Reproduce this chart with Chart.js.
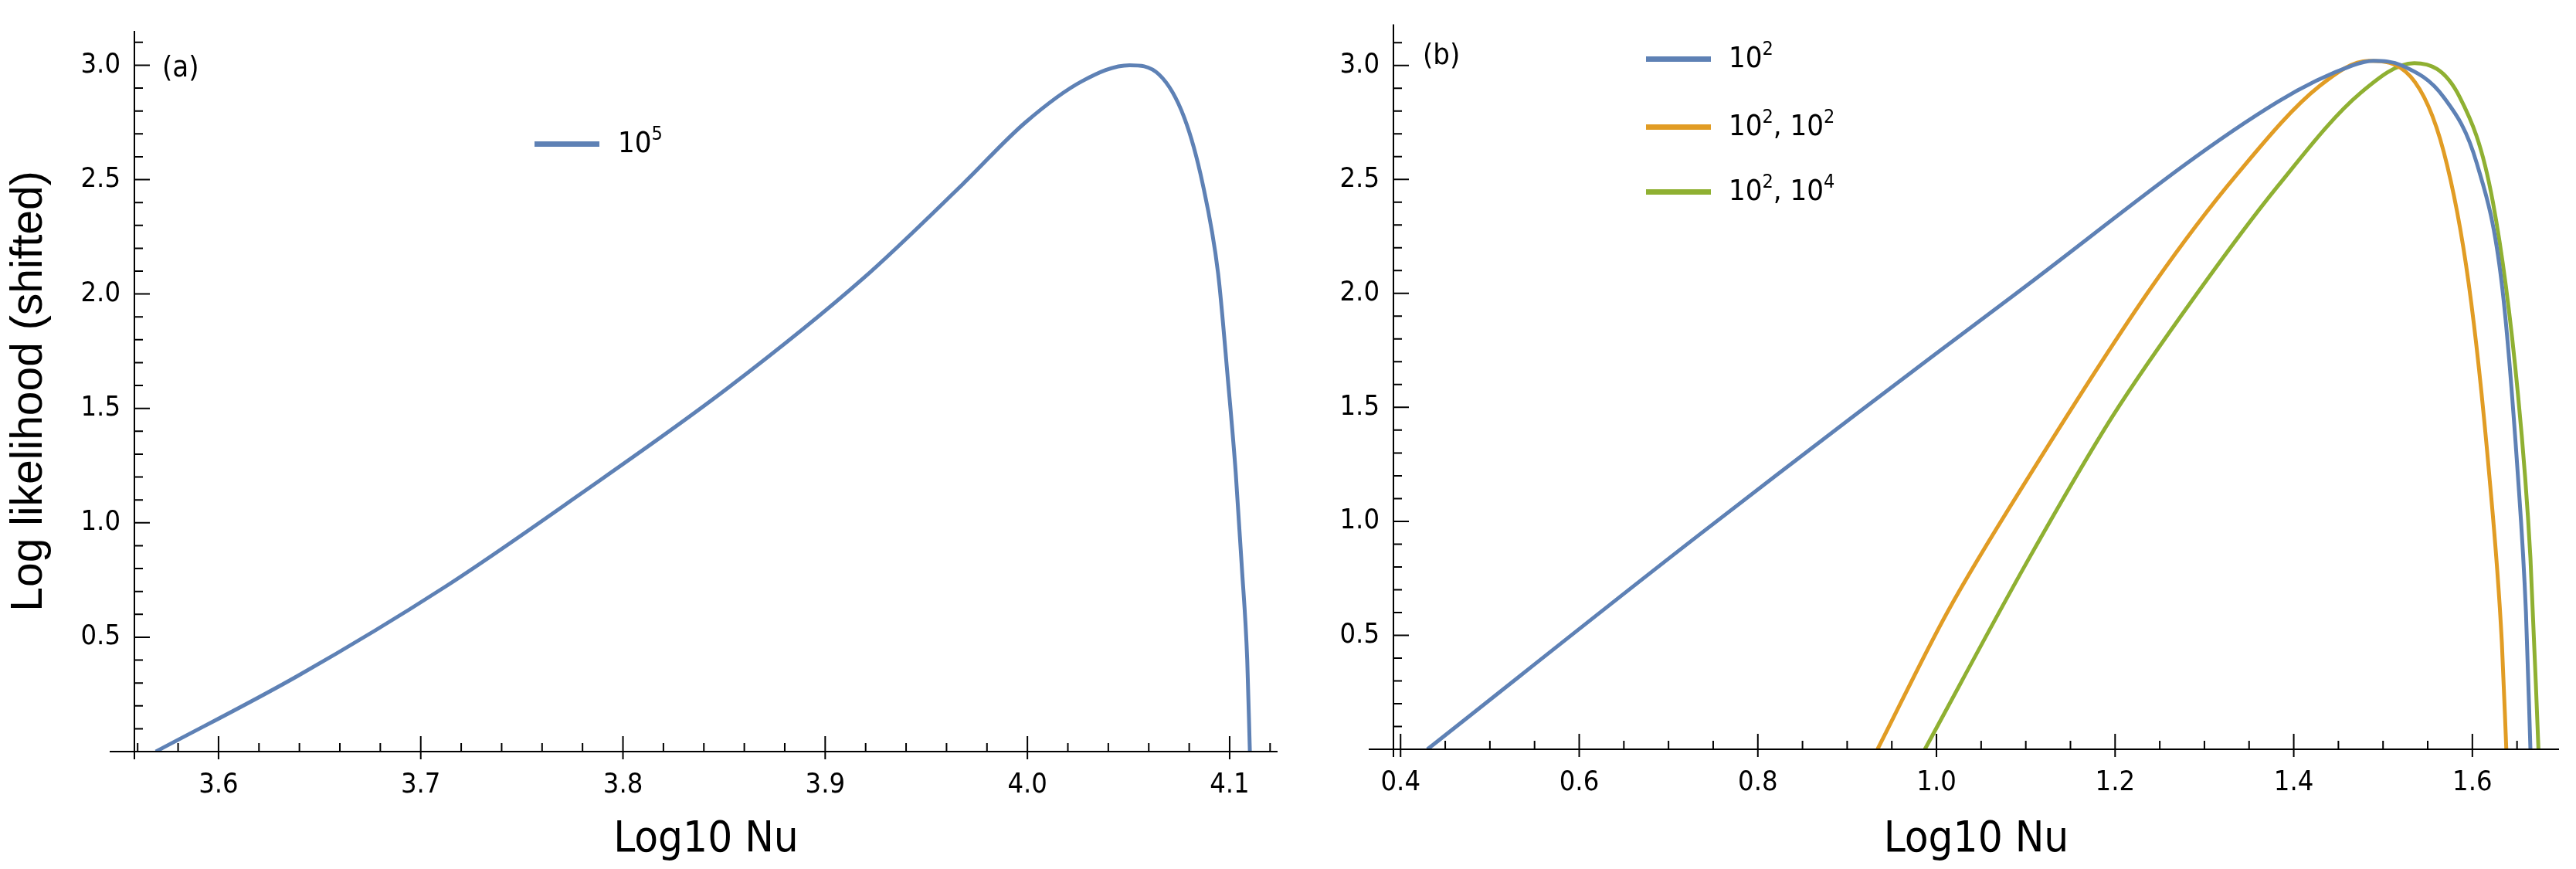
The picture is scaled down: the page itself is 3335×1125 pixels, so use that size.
<!DOCTYPE html>
<html>
<head>
<meta charset="utf-8">
<script src="https://cdn.jsdelivr.net/npm/chart.js@4"></script>
<style>
  body { margin: 0; background: #fff; width: 3335px; height: 1125px; position: relative; overflow: hidden; }
  .box { position: absolute; top: 0; height: 1125px; }
  .lbl { position: absolute; font-family: 'DejaVu Sans Condensed', 'Liberation Sans Narrow', sans-serif; font-size: 38px; color: #000; }
  .key { position: absolute; height: 7px; width: 84px; }
  sup { font-size: 25px; vertical-align: 16px; line-height: 0; }
</style>
</head>
<body>
<div class="box" style="left:0;width:1665px"><canvas id="chartA"></canvas></div>
<div class="box" style="left:1665px;width:1670px"><canvas id="chartB"></canvas></div>

<div class="lbl" style="left:210px;top:64px">(a)</div>
<div class="key" style="left:692px;top:183px;background:#5e81b5"></div>
<div class="lbl" style="left:800px;top:162px">10<sup>5</sup></div>

<div class="lbl" style="left:1842px;top:48px">(b)</div>
<div class="key" style="left:2131px;top:73px;background:#5e81b5"></div>
<div class="lbl" style="left:2238px;top:52px">10<sup>2</sup></div>
<div class="key" style="left:2131px;top:161px;background:#e19c24"></div>
<div class="lbl" style="left:2238px;top:140px">10<sup>2</sup>, 10<sup>2</sup></div>
<div class="key" style="left:2131px;top:245px;background:#8fb032"></div>
<div class="lbl" style="left:2238px;top:224px">10<sup>2</sup>, 10<sup>4</sup></div>

<script>
// panel (a)
var xA = [3.569, 3.639, 3.712, 3.778, 3.852, 3.919, 3.968, 3.999, 4.027, 4.0505, 4.065, 4.0776, 4.0867, 4.0943, 4.0992, 4.103, 4.106, 4.1087, 4.110];
var yA = [0, 0.33, 0.72, 1.12, 1.59, 2.07, 2.48, 2.75, 2.93, 3.0, 2.96, 2.77, 2.48, 2.09, 1.62, 1.22, 0.81, 0.40, 0];

// panel (b)
var xBlue = [0.43, 0.734, 1.086, 1.382, 1.466, 1.489, 1.521, 1.568, 1.605, 1.633, 1.651, 1.66, 1.665];
var yBlue = [0, 0.94, 1.99, 2.84, 3.0, 3.02, 3.0, 2.86, 2.57, 2.04, 1.2, 0.6, 0];
var xOrange = [0.934, 1.012, 1.104, 1.243, 1.336, 1.429, 1.484, 1.531, 1.568, 1.596, 1.619, 1.633, 1.638];
var yOrange = [0, 0.6, 1.2, 2.04, 2.52, 2.91, 3.02, 2.95, 2.62, 2.04, 1.2, 0.47, 0];
var xGreen = [0.987, 1.104, 1.197, 1.29, 1.382, 1.475, 1.535, 1.586, 1.623, 1.651, 1.665, 1.674];
var yGreen = [0, 0.84, 1.46, 1.99, 2.47, 2.88, 3.01, 2.86, 2.4, 1.56, 0.84, 0];

var yTicks = [0.5, 1.0, 1.5, 2.0, 2.5, 3.0];
var xTicksA = [3.6, 3.7, 3.8, 3.9, 4.0, 4.1];
var xTicksB = [0.4, 0.6, 0.8, 1.0, 1.2, 1.4, 1.6];

function pts(xs, ys) {
    return xs.map(function (x, i) { return { x: x, y: ys[i] }; });
}

function line(xs, ys, color) {
    return {
        data: pts(xs, ys),
        showLine: true,
        borderColor: color,
        borderWidth: 5,
        pointRadius: 0,
        cubicInterpolationMode: 'monotone',
        fill: false
    };
}

// ticks drawn inward like the original
var tickPlugin = {
    id: 'ticks',
    afterDraw: function (chart) {
        var c = chart.ctx, a = chart.chartArea, o = chart.options.plugins.ticks;
        var xs = chart.scales.x, ys = chart.scales.y;
        c.save();
        c.strokeStyle = '#000';
        c.lineWidth = 2;
        c.beginPath();
        c.moveTo(a.left - 32, a.bottom); c.lineTo(a.right, a.bottom);
        c.moveTo(a.left, a.top); c.lineTo(a.left, a.bottom + 10);
        c.stroke();
        var i, v, p;
        c.beginPath();
        for (i = 0; ; i++) {
            v = o.xStart + i * o.xMinor;
            if (v > xs.max + 1e-9) break;
            if (v < xs.min - 1e-9) continue;
            p = xs.getPixelForValue(v);
            var major = Math.abs(v / o.xMajor - Math.round(v / o.xMajor)) < 1e-6;
            c.moveTo(p, a.bottom); c.lineTo(p, a.bottom - (major ? 20 : 11));
            if (major) { c.moveTo(p, a.bottom); c.lineTo(p, a.bottom + 10); }
        }
        for (i = 1; ; i++) {
            v = i * 0.1;
            if (v > ys.max) break;
            p = ys.getPixelForValue(v);
            var majorY = i % 5 === 0;
            c.moveTo(a.left, p); c.lineTo(a.left + (majorY ? 20 : 11), p);
        }
        c.stroke();
        c.restore();
    }
};

var tickFont = { family: "'DejaVu Sans Condensed', 'Liberation Sans Narrow', sans-serif", size: 36 };
var titleFont = { family: "'DejaVu Sans Condensed', 'Liberation Sans Narrow', sans-serif", size: 56 };

function options(xMin, xMax, xTicks, minor, major, xStart, yMax, pad, xH, yW, showYTitle) {
    return {
        responsive: false,
        animation: false,
        layout: { padding: pad },
        plugins: {
            legend: { display: false },
            tooltip: { enabled: false },
            ticks: { xMinor: minor, xMajor: major, xStart: xStart }
        },
        scales: {
            x: {
                type: 'linear', min: xMin, max: xMax,
                afterBuildTicks: function (s) { s.ticks = xTicks.map(function (v) { return { value: v }; }); },
                afterFit: function (s) { s.height = xH; },
                grid: { display: false },
                border: { display: false },
                ticks: { font: tickFont, color: '#000', padding: 14, maxRotation: 0,
                    callback: function (v) { return v.toFixed(1); } },
                title: { display: true, text: 'Log10 Nu', font: titleFont, color: '#000', padding: { top: 14 } }
            },
            y: {
                type: 'linear', min: 0, max: yMax,
                afterBuildTicks: function (s) { s.ticks = yTicks.map(function (v) { return { value: v }; }); },
                afterFit: function (s) { s.width = yW; },
                grid: { display: false },
                border: { display: false },
                ticks: { font: tickFont, color: '#000', padding: 10,
                    callback: function (v) { return v.toFixed(1); } },
                title: { display: showYTitle, text: 'Log likelihood (shifted)',
                    font: { family: "'Liberation Sans', Arial, sans-serif", size: 57 }, color: '#000', padding: { bottom: 2 } }
            }
        }
    };
}

var cA = document.getElementById('chartA');
cA.width = 1665; cA.height = 1125;
new Chart(cA, {
    type: 'scatter',
    data: { datasets: [line(xA, yA, '#5e81b5')] },
    options: options(3.5584, 4.1237, xTicksA, 0.02, 0.1, 3.56, 3.15,
        { top: 40, right: 11, left: 0, bottom: 0 }, 152, 174, true),
    plugins: [tickPlugin]
});

var cB = document.getElementById('chartB');
cB.width = 1670; cB.height = 1125;
new Chart(cB, {
    type: 'scatter',
    data: { datasets: [
        line(xBlue, yBlue, '#5e81b5'),
        line(xOrange, yOrange, '#e19c24'),
        line(xGreen, yGreen, '#8fb032')
    ] },
    options: options(0.392, 1.697, xTicksB, 0.05, 0.2, 0.4, 3.18,
        { top: 18, right: 22, left: 0, bottom: 0 }, 155, 139, false),
    plugins: [tickPlugin]
});
</script>
</body>
</html>
